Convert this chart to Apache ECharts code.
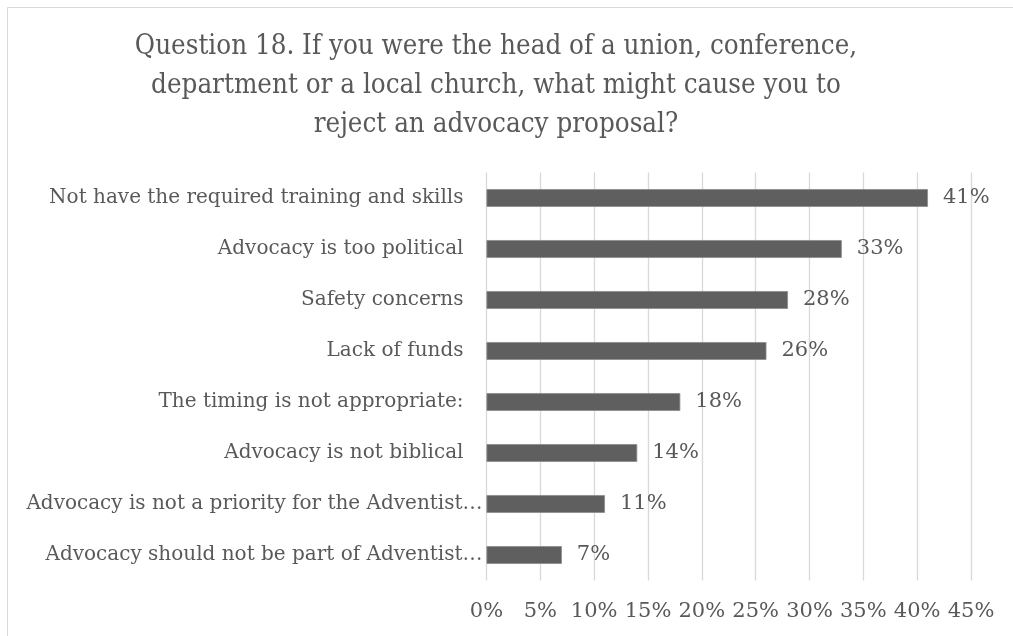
<!DOCTYPE html>
<html>
<head>
<meta charset="utf-8">
<script src="https://cdn.jsdelivr.net/npm/echarts@6/dist/echarts.min.js"></script>
<style>
html,body{margin:0;padding:0;background:#fff;}
#c{width:1013px;height:636px;}
</style>
</head>
<body>
<div id="c"></div>
<script>
const titleText = 'Question 18. If you were the head of a union, conference,\ndepartment or a local church, what might cause you to\nreject an advocacy proposal?';
const categories = [
  'Not have the required training and skills',
  'Advocacy is too political',
  'Safety concerns',
  'Lack of funds',
  'The timing is not appropriate:',
  'Advocacy is not biblical',
  'Advocacy is not a priority for the Adventist…',
  'Advocacy should not be part of Adventist…'
];
const values = [41, 33, 28, 26, 18, 14, 11, 7];
const tickMin = 0, tickMax = 45, tickStep = 5;

const chart = echarts.init(document.getElementById('c'), null, {renderer: 'canvas'});
const serif = '"DejaVu Serif", "Liberation Serif", serif';
chart.setOption({
  backgroundColor: '#fff',
  animation: false,
  graphic: [{
    type: 'rect', shape: {x: 7.5, y: 7.5, width: 1020, height: 640},
    style: {fill: 'none', stroke: '#d9d9d9', lineWidth: 1}, silent: true
  }],
  title: {
    text: titleText,
    left: 491, top: 22, textAlign: 'center',
    textStyle: {
      fontFamily: '"DejaVu Serif Condensed", "Liberation Serif", serif',
      fontSize: 27.5, fontWeight: 'normal', color: '#595959', lineHeight: 39
    }
  },
  grid: {left: 486.5, right: 42, top: 172.5, bottom: 55.5, containLabel: false},
  xAxis: {
    type: 'value', min: tickMin, max: tickMax, interval: tickStep,
    axisLine: {show: false}, axisTick: {show: false},
    splitLine: {show: true, lineStyle: {color: '#d9d9d9', width: 1.3}},
    axisLabel: {
      formatter: v => v + '%', margin: 21,
      fontFamily: serif, fontSize: 21, color: '#595959'
    }
  },
  yAxis: {
    type: 'category', data: categories, inverse: true,
    axisLine: {show: false}, axisTick: {show: false},
    axisLabel: {
      margin: 4, fontFamily: serif, fontSize: 20, color: '#595959',
      formatter: v => v.endsWith('…') ? '{t|' + v + '}' : '{n|' + v + '}',
      rich: {
        n: {fontFamily: serif, fontSize: 20, color: '#595959', padding: [0, 19, 0, 0]},
        t: {fontFamily: serif, fontSize: 20, color: '#595959'}
      }
    }
  },
  series: [{
    type: 'bar', data: values, barWidth: '35%',
    itemStyle: {color: '#5f5f5f', borderColor: '#8c8c8c', borderWidth: 0.8},
    label: {
      show: true, position: 'right', distance: 15,
      formatter: p => p.value + '%',
      fontFamily: serif, fontSize: 21, color: '#595959'
    }
  }]
});
</script>
</body>
</html>
